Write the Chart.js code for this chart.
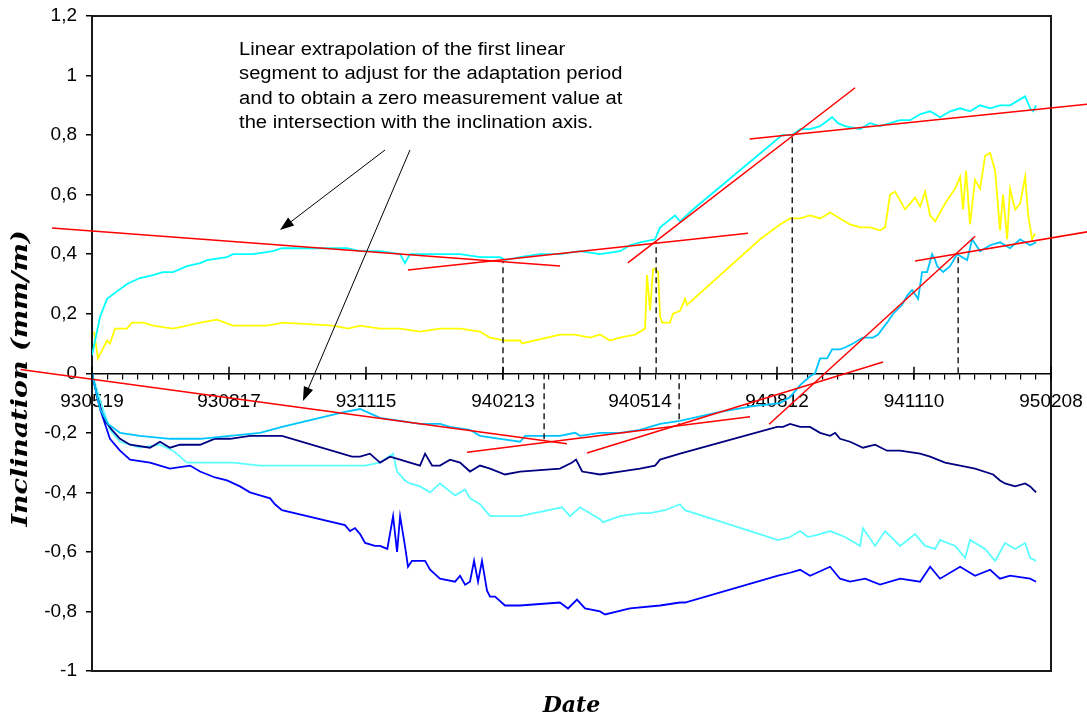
<!DOCTYPE html>
<html>
<head>
<meta charset="utf-8">
<script src="https://cdn.jsdelivr.net/npm/chart.js@4.4.1/dist/chart.umd.min.js"></script>
<style>
  html, body { margin: 0; padding: 0; background: #fff; }
  #wrap { width: 1087px; height: 718px; }
</style>
</head>
<body>
<div id="wrap"><canvas id="inclinationChart" width="1087" height="718"></canvas></div>
<script>
// Eje X en días desde 930519 (cada 90 días una fecha)
const tickLabels = ['930519', '930817', '931115', '940213', '940514', '940812', '941110', '950208'];

// Serie superior (cian)
const cyanDays = [0, 5.3, 9.9, 15.1, 23, 31.5, 40.1, 46.6, 53.2, 62.4, 71, 75.6, 88.7, 92.6, 105.8, 118.9, 124.8, 167.5, 176.1, 189.2, 202.4, 205.6, 208.9, 215.5, 228.6, 241.8, 254.9, 268.1, 271.3, 281.2, 294.3, 307.4, 320.6, 333.7, 346.9, 353.4, 360, 369.9, 373.2, 383, 386.3, 394.8, 448.7, 453.3, 459.9, 465.2, 471.7, 478.3, 486.2, 490.1, 494.7, 504.6, 511.1, 517.7, 524.3, 530.9, 537.4, 544, 550.6, 557.1, 563.7, 570.3, 576.8, 583.4, 590, 596.5, 603.1, 609.7, 613, 616.3, 618.2, 620.2];
const cyanValues = [0.06, 0.19, 0.25, 0.27, 0.30, 0.32, 0.33, 0.34, 0.34, 0.36, 0.37, 0.38, 0.39, 0.40, 0.40, 0.41, 0.42, 0.42, 0.41, 0.41, 0.40, 0.37, 0.40, 0.40, 0.40, 0.40, 0.39, 0.39, 0.38, 0.39, 0.40, 0.40, 0.41, 0.40, 0.41, 0.43, 0.44, 0.45, 0.49, 0.53, 0.51, 0.55, 0.78, 0.80, 0.80, 0.82, 0.82, 0.83, 0.86, 0.84, 0.83, 0.82, 0.84, 0.83, 0.84, 0.85, 0.85, 0.87, 0.88, 0.86, 0.88, 0.89, 0.88, 0.90, 0.89, 0.90, 0.90, 0.92, 0.93, 0.89, 0.88, 0.90];

// Serie amarilla
const yellowDays = [1.3, 3.9, 9.9, 11.8, 15.1, 17.1, 23, 26.3, 33.5, 40.1, 53.2, 62.4, 71, 82.1, 92.6, 115, 125.5, 158.3, 168.2, 176.1, 189.2, 202.4, 215.5, 228.6, 241.8, 254.9, 261.5, 271.3, 281.2, 282.5, 307.4, 317.3, 327.2, 333.7, 340.3, 346.9, 356.8, 363.3, 364.6, 366.6, 368.6, 369.9, 371.9, 373.2, 374.5, 379.7, 381.7, 386.3, 389.6, 390.9, 438.9, 452, 458.6, 465.2, 471.7, 478.3, 484.9, 491.4, 498, 504.6, 511.1, 517.7, 521, 524.3, 527.6, 530.9, 534.1, 537.4, 540.7, 544, 547.3, 550.6, 553.9, 560.4, 567, 570.3, 572.2, 574.2, 576.8, 580.1, 583.4, 586.7, 590, 593.3, 596.5, 598.5, 601.2, 603.1, 606.4, 609.7, 613, 615, 617.6, 619.5];
const yellowValues = [0.14, 0.05, 0.11, 0.10, 0.15, 0.15, 0.15, 0.17, 0.17, 0.16, 0.15, 0.16, 0.17, 0.18, 0.16, 0.16, 0.17, 0.16, 0.15, 0.16, 0.15, 0.15, 0.14, 0.15, 0.15, 0.14, 0.12, 0.11, 0.11, 0.10, 0.13, 0.13, 0.12, 0.13, 0.11, 0.12, 0.13, 0.15, 0.33, 0.21, 0.35, 0.35, 0.34, 0.19, 0.17, 0.17, 0.20, 0.21, 0.25, 0.23, 0.45, 0.50, 0.52, 0.52, 0.53, 0.52, 0.54, 0.52, 0.50, 0.49, 0.49, 0.48, 0.49, 0.60, 0.61, 0.58, 0.55, 0.57, 0.59, 0.56, 0.61, 0.53, 0.51, 0.57, 0.62, 0.66, 0.55, 0.68, 0.50, 0.65, 0.62, 0.73, 0.74, 0.68, 0.48, 0.60, 0.45, 0.62, 0.55, 0.57, 0.66, 0.53, 0.45, 0.47];

// Serie azul cielo (baja y luego sube)
const skyDays = [0, 2.6, 5.3, 10.5, 18.4, 31.5, 51.2, 71, 90.7, 110.4, 124.8, 166.2, 176.1, 189.2, 202.4, 215.5, 228.6, 235.2, 248.3, 254.9, 268.1, 281.2, 284.5, 307.4, 317.3, 320.6, 333.7, 346.9, 360, 373.2, 386.3, 412.6, 434.3, 452, 458.6, 465.2, 471.7, 475, 478.3, 482.9, 486.2, 491.4, 496, 500, 506.5, 513.1, 516.4, 522.3, 526.3, 532.2, 535.5, 538.7, 542.7, 545.3, 548.6, 551.9, 553.9, 555.2, 559.1, 563.7, 568.3, 574.9, 578.2, 583.4, 590, 596.5, 603.1, 609.7, 616.3, 620.2];
const skyValues = [0, -0.06, -0.12, -0.17, -0.20, -0.21, -0.22, -0.22, -0.21, -0.20, -0.18, -0.13, -0.12, -0.15, -0.16, -0.17, -0.17, -0.18, -0.19, -0.21, -0.22, -0.23, -0.21, -0.21, -0.20, -0.21, -0.20, -0.20, -0.19, -0.17, -0.16, -0.13, -0.11, -0.10, -0.08, -0.04, -0.01, 0, 0.05, 0.05, 0.08, 0.08, 0.09, 0.10, 0.12, 0.12, 0.13, 0.17, 0.20, 0.23, 0.26, 0.28, 0.25, 0.34, 0.34, 0.40, 0.38, 0.36, 0.34, 0.36, 0.40, 0.38, 0.45, 0.41, 0.43, 0.44, 0.42, 0.45, 0.43, 0.44];

// Serie azul marino
const navyDays = [0, 3.9, 8.5, 13.1, 18.4, 25, 38.1, 44.7, 51.2, 57.8, 71, 80.8, 90.7, 103.8, 124.8, 170.8, 176.1, 182.6, 189.2, 195.8, 202.4, 208.9, 215.5, 218.8, 223.4, 228.6, 235.2, 241.8, 248.3, 254.9, 261.5, 271.3, 281.2, 307.4, 315.4, 318, 322, 333.7, 346.9, 360, 369.9, 373.2, 379.7, 386.3, 450, 454, 458.6, 465.2, 471.7, 478.3, 484.9, 488.2, 491.4, 498, 506.5, 514.4, 522.3, 530.9, 544, 550.6, 560.4, 570.3, 580.1, 592, 596.5, 599.8, 606.4, 613, 616.3, 620.2];
const navyValues = [0, -0.09, -0.16, -0.19, -0.22, -0.24, -0.25, -0.23, -0.25, -0.24, -0.24, -0.22, -0.22, -0.21, -0.21, -0.28, -0.28, -0.27, -0.30, -0.28, -0.29, -0.30, -0.31, -0.27, -0.31, -0.31, -0.29, -0.30, -0.33, -0.31, -0.32, -0.34, -0.33, -0.32, -0.30, -0.29, -0.33, -0.34, -0.33, -0.32, -0.31, -0.29, -0.28, -0.27, -0.18, -0.18, -0.17, -0.18, -0.18, -0.20, -0.21, -0.20, -0.22, -0.23, -0.25, -0.24, -0.26, -0.26, -0.27, -0.28, -0.30, -0.31, -0.32, -0.34, -0.36, -0.37, -0.38, -0.37, -0.38, -0.40];

// Serie cian claro
const lightDays = [0, 5.3, 11.8, 18.4, 31.5, 44.7, 53.2, 62.4, 77.5, 92.6, 110.4, 124.8, 169.5, 179.4, 189.2, 197.8, 200.4, 205.6, 208.9, 215.5, 222.1, 228.6, 238.5, 245.1, 248.3, 254.9, 261.5, 268.1, 281.2, 308.8, 314, 320.6, 327.2, 333.7, 335.7, 346.9, 360, 366.6, 376.5, 386.3, 389.6, 450.7, 458.6, 465.2, 470.4, 478.3, 484.9, 494.7, 504.6, 506.5, 514.4, 521, 530.9, 540.7, 547.3, 553.9, 557.1, 567, 573.6, 576.8, 586.7, 593.3, 599.8, 606.4, 613, 616.3, 620.2];
const lightValues = [0, -0.09, -0.19, -0.23, -0.25, -0.24, -0.26, -0.30, -0.30, -0.30, -0.31, -0.31, -0.31, -0.31, -0.30, -0.27, -0.33, -0.36, -0.37, -0.38, -0.40, -0.37, -0.41, -0.39, -0.42, -0.44, -0.48, -0.48, -0.48, -0.45, -0.48, -0.45, -0.47, -0.49, -0.50, -0.48, -0.47, -0.47, -0.46, -0.44, -0.46, -0.56, -0.55, -0.53, -0.55, -0.54, -0.53, -0.55, -0.58, -0.52, -0.58, -0.53, -0.58, -0.54, -0.58, -0.59, -0.56, -0.58, -0.62, -0.56, -0.59, -0.63, -0.57, -0.59, -0.57, -0.62, -0.63];

// Serie azul
const blueDays = [0, 5.3, 11.8, 18.4, 25, 38.1, 51.2, 64.4, 71, 80.8, 88.7, 97.2, 103.8, 110.4, 117, 120.2, 124.8, 166.2, 169.5, 172.8, 176.1, 179.4, 185.9, 189.2, 194, 197.8, 200.4, 202.4, 205.6, 207.6, 210.2, 218.8, 222.1, 228.6, 238.5, 241.8, 245.1, 248.3, 251, 253.6, 256.2, 259.5, 261.5, 264.8, 271.3, 281.2, 307.4, 312.7, 318.6, 323.9, 333.7, 337, 353.4, 373.2, 386.3, 389.6, 450.7, 458.6, 465.2, 471.7, 484.9, 491.4, 498, 507.9, 517.7, 530.9, 544, 550.6, 557.1, 570.3, 580.1, 590, 596.5, 603.1, 616.3, 620.2];
const blueValues = [0, -0.12, -0.22, -0.26, -0.29, -0.30, -0.32, -0.31, -0.33, -0.35, -0.36, -0.38, -0.40, -0.41, -0.42, -0.44, -0.46, -0.51, -0.53, -0.52, -0.54, -0.57, -0.58, -0.58, -0.59, -0.48, -0.60, -0.48, -0.58, -0.65, -0.63, -0.63, -0.66, -0.69, -0.70, -0.68, -0.71, -0.70, -0.63, -0.70, -0.63, -0.73, -0.75, -0.75, -0.78, -0.78, -0.77, -0.79, -0.76, -0.79, -0.80, -0.81, -0.79, -0.78, -0.77, -0.77, -0.68, -0.67, -0.66, -0.68, -0.65, -0.69, -0.70, -0.69, -0.71, -0.69, -0.70, -0.65, -0.69, -0.65, -0.68, -0.66, -0.69, -0.68, -0.69, -0.70];

// Rectas de tendencia: [día inicio, valor inicio, día fin, valor fin]
const trendLines = [
    [-26.3, 0.488, 307.5, 0.36],
    [207.6, 0.347, 431, 0.47],
    [352, 0.371, 501.3, 0.959],
    [432, 0.787, 653.7, 0.904],
    [-47, 0.013, 312, -0.237],
    [246.4, -0.265, 432.3, -0.146],
    [325.2, -0.268, 519.7, 0.038],
    [444.8, -0.171, 580.2, 0.46],
    [540.7, 0.377, 653.7, 0.475]
];

// Líneas verticales discontinuas en las intersecciones
const dropDays = [270, 370.6, 460, 569, 297, 385.7];
const dropValues = [0.378, 0.44, 0.80, 0.40, -0.23, -0.174];

const noteLines = [
    'Linear extrapolation of the first linear',
    'segment to adjust for the adaptation period',
    'and to obtain a zero measurement value at',
    'the intersection with the inclination axis.'
];

const toPoints = (days, values) => days.map((d, i) => ({ x: d, y: values[i] }));

const series = [
    { days: cyanDays, values: cyanValues, color: '#00FFFF' },
    { days: yellowDays, values: yellowValues, color: '#FFFF00' },
    { days: skyDays, values: skyValues, color: '#00C4FF' },
    { days: navyDays, values: navyValues, color: '#000080' },
    { days: lightDays, values: lightValues, color: '#5CFFFF' },
    { days: blueDays, values: blueValues, color: '#0000FF' }
];

const datasets = [];

// Rectas rojas (encima de todo)
trendLines.forEach(t => {
    datasets.push({
        data: [{ x: t[0], y: t[1] }, { x: t[2], y: t[3] }],
        borderColor: '#FF0000',
        borderWidth: 1.5,
        pointRadius: 0,
        clip: false
    });
});

// Verticales discontinuas
dropDays.forEach((d, i) => {
    datasets.push({
        data: [{ x: d, y: 0 }, { x: d, y: dropValues[i] }],
        borderColor: '#000000',
        borderWidth: 1.3,
        borderDash: [6, 4],
        pointRadius: 0
    });
});

series.forEach(s => {
    datasets.push({
        data: toPoints(s.days, s.values),
        borderColor: s.color,
        borderWidth: 1.8,
        pointRadius: 0,
        tension: 0
    });
});

// Anotaciones en coordenadas de datos
const notes = {
    text: { day: 96.6, value: 1.069, lineStep: 24.3 },
    arrows: [
        { fromDay: 192.5, fromValue: 0.75, toDay: 123.5, toValue: 0.481 },
        { fromDay: 208.9, fromValue: 0.75, toDay: 138.6, toValue: -0.093 }
    ]
};

function drawArrow(ctx, x1, y1, x2, y2) {
    const ang = Math.atan2(y2 - y1, x2 - x1);
    const len = 14, half = 5;
    ctx.beginPath();
    ctx.moveTo(x1, y1);
    ctx.lineTo(x2 - len * 0.7 * Math.cos(ang), y2 - len * 0.7 * Math.sin(ang));
    ctx.stroke();
    ctx.beginPath();
    ctx.moveTo(x2, y2);
    ctx.lineTo(x2 - len * Math.cos(ang) + half * Math.sin(ang), y2 - len * Math.sin(ang) - half * Math.cos(ang));
    ctx.lineTo(x2 - len * Math.cos(ang) - half * Math.sin(ang), y2 - len * Math.sin(ang) + half * Math.cos(ang));
    ctx.closePath();
    ctx.fill();
}

const extrasPlugin = {
    id: 'extras',
    beforeDatasetsDraw(chart) {
        const { ctx, chartArea: a } = chart;
        ctx.save();
        ctx.strokeStyle = '#1a1a1a';
        ctx.lineWidth = 2;
        ctx.strokeRect(a.left, a.top, a.right - a.left, a.bottom - a.top);
        ctx.restore();
    },
    afterDraw(chart) {
        const { ctx, chartArea: a, scales: { x, y } } = chart;
        ctx.save();

        // marcas principales del eje X (cruzan el eje)
        const y0 = y.getPixelForValue(0);
        ctx.strokeStyle = '#000';
        ctx.lineWidth = 1.5;
        for (let d = 0; d <= 630; d += 90) {
            const px = x.getPixelForValue(d);
            ctx.beginPath();
            ctx.moveTo(px, y0 - 6.5);
            ctx.lineTo(px, y0 + 6.5);
            ctx.stroke();
        }

        // flechas
        ctx.fillStyle = '#000';
        ctx.lineWidth = 1;
        notes.arrows.forEach(ar => {
            drawArrow(ctx,
                x.getPixelForValue(ar.fromDay), y.getPixelForValue(ar.fromValue),
                x.getPixelForValue(ar.toDay), y.getPixelForValue(ar.toValue));
        });

        // texto explicativo
        ctx.font = '18px "Liberation Sans", Arial, sans-serif';
        ctx.textAlign = 'left';
        ctx.textBaseline = 'alphabetic';
        const tx = x.getPixelForValue(notes.text.day);
        const ty = y.getPixelForValue(notes.text.value);
        noteLines.forEach((line, i) => {
            ctx.save();
            ctx.translate(tx, ty + i * notes.text.lineStep);
            ctx.scale(1.12, 1);
            ctx.fillText(line, 0, 0);
            ctx.restore();
        });

        // título del eje Y
        ctx.save();
        ctx.translate(21, (a.top + a.bottom) / 2 + 35);
        ctx.rotate(-Math.PI / 2);
        ctx.scale(1.17, 1);
        ctx.font = 'italic bold 23px "DejaVu Serif", serif';
        ctx.textAlign = 'center';
        ctx.textBaseline = 'middle';
        ctx.fillText('Inclination (mm/m)', 0, 0);
        ctx.restore();

        ctx.restore();
    }
};

Chart.defaults.font.family = '"Liberation Sans", Arial, sans-serif';
Chart.defaults.font.size = 19;
Chart.defaults.color = '#000';

new Chart(document.getElementById('inclinationChart'), {
    type: 'line',
    data: { datasets },
    options: {
        responsive: false,
        devicePixelRatio: 1,
        animation: false,
        events: [],
        layout: { padding: { left: 0, top: 16, right: 36, bottom: 0 } },
        plugins: {
            legend: { display: false },
            tooltip: { enabled: false },
            title: {
                display: true,
                text: 'Date',
                position: 'bottom',
                fullSize: false,
                color: '#000',
                font: { family: '"DejaVu Serif", serif', size: 22, style: 'italic', weight: 'bold', lineHeight: 1 },
                padding: { top: 24, bottom: 1 }
            }
        },
        scales: {
            x: {
                type: 'linear',
                position: { y: 0 },
                min: 0,
                max: 630,
                afterFit: s => { s.height = 0; s.paddingLeft = 0; s.paddingRight = 0; },
                grid: { drawOnChartArea: false, drawTicks: true, tickLength: 5, color: '#000', lineWidth: 1.2 },
                border: { display: true, color: '#000', width: 1.5 },
                ticks: {
                    stepSize: 10,
                    autoSkip: false,
                    maxRotation: 0,
                    padding: 12,
                    callback: v => (v % 90 === 0 ? tickLabels[v / 90] : '')
                }
            },
            y: {
                type: 'linear',
                min: -1,
                max: 1.2,
                afterFit: s => { s.width = 92; s.paddingTop = 0; s.paddingBottom = 0; },
                grid: { drawOnChartArea: false, drawTicks: true, tickLength: 6, color: '#000', lineWidth: 1.5 },
                border: { display: true, color: '#1a1a1a', width: 2 },
                ticks: {
                    stepSize: 0.2,
                    padding: 9,
                    callback: v => String(Math.round(v * 10) / 10).replace('.', ',')
                }
            }
        }
    },
    plugins: [extrasPlugin]
});
</script>
</body>
</html>
